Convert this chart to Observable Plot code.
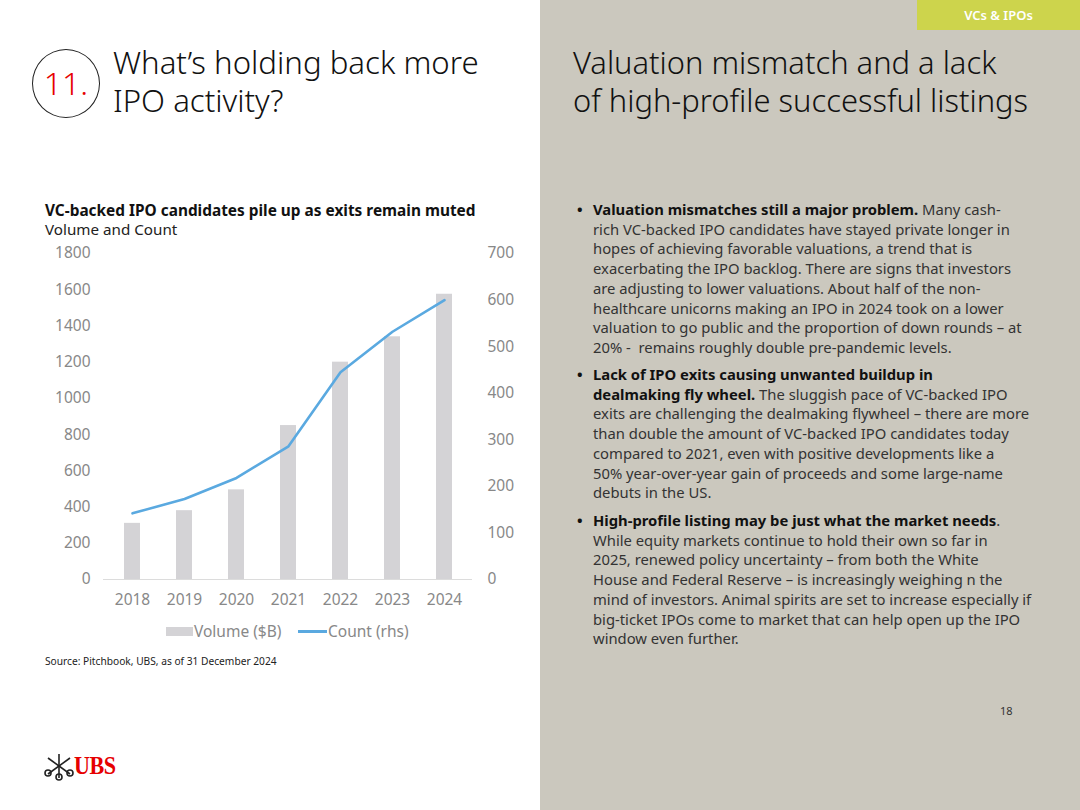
<!DOCTYPE html>
<html>
<head>
<meta charset="utf-8">
<script src="https://cdn.jsdelivr.net/npm/d3@7"></script>
<script src="https://cdn.jsdelivr.net/npm/@observablehq/plot@0.6"></script>
<style>
  html, body { margin:0; padding:0; }
  body { width:1080px; height:810px; position:relative; overflow:hidden; background:#fff; font-family:"Noto Sans", sans-serif; }
  .right { position:absolute; left:540px; top:0; width:540px; height:810px; background:#cbc8be; }
  .tag { position:absolute; left:917px; top:0; width:163px; height:30px; background:#cdd44c; color:#fff; font-size:13px; font-weight:600; line-height:30px; text-align:center; }
  .circle { position:absolute; left:32px; top:49px; width:66px; height:67px; border:1.5px solid #222; border-radius:50%; }
  .circle span { position:absolute; left:0; width:66px; top:14px; text-align:center; color:#e60000; font-size:32px; font-weight:300; line-height:38px; }
  .title { position:absolute; font-size:31.2px; font-weight:300; color:#111; line-height:38px; white-space:nowrap; }
  .ctitle { position:absolute; left:45px; top:200px; font-size:15.4px; font-weight:700; color:#111; white-space:nowrap; }
  .csub { position:absolute; left:45px; top:219px; font-size:15.2px; color:#222; white-space:nowrap; }
  #chart { position:absolute; left:40px; top:240px; }
  .legend { position:absolute; top:620px; left:0; font-size:15.5px; color:#888; white-space:nowrap; }
  .source { position:absolute; left:45px; top:654px; font-size:10.2px; color:#222; white-space:nowrap; }
  .bul { position:absolute; left:593px; font-size:14.8px; line-height:19.7px; color:#333; white-space:nowrap; }
  .bul b { color:#111; }
  .bul::before { content:"•"; position:absolute; left:-16px; top:0; color:#111; font-weight:700; }
  .page { position:absolute; left:1000px; top:703px; font-size:11px; color:#333; }
  .ubs { position:absolute; left:74px; top:751px; font-family:"Liberation Serif", serif; font-weight:700; font-size:26px; color:#e60000; letter-spacing:-0.5px; transform:scaleX(0.85); transform-origin:left; }
</style>
</head>
<body>
<div class="right"></div>
<div class="tag">VCs &amp; IPOs</div>
<div class="circle"><span>11.</span></div>
<div class="title" style="left:113px; top:43px;">What’s holding back more</div>
<div class="title" style="left:113px; top:81px;">IPO activity?</div>
<div class="title" style="left:573px; top:43px; font-size:30.9px;">Valuation mismatch and a lack</div>
<div class="title" style="left:573px; top:81px; font-size:30.9px;">of high-profile successful listings</div>

<div class="ctitle">VC-backed IPO candidates pile up as exits remain muted</div>
<div class="csub">Volume and Count</div>
<div id="chart"></div>

<div class="legend">
  <span style="position:absolute; left:166px; top:7px; width:27px; height:9px; background:#d4d3d6;"></span>
  <span style="position:absolute; left:194px; top:0;">Volume ($B)</span>
  <span style="position:absolute; left:298px; top:10px; width:29px; height:3px; background:#5aa9e0;"></span>
  <span style="position:absolute; left:328px; top:0;">Count (rhs)</span>
</div>
<div class="source">Source: Pitchbook, UBS, as of 31 December 2024</div>

<div class="bul" style="top:200px;"><b>Valuation mismatches still a major problem.</b> Many cash-<br>rich VC-backed IPO candidates have stayed private longer in<br>hopes of achieving favorable valuations, a trend that is<br>exacerbating the IPO backlog. There are signs that investors<br>are adjusting to lower valuations. About half of the non-<br>healthcare unicorns making an IPO in 2024 took on a lower<br>valuation to go public and the proportion of down rounds – at<br>20% -&nbsp; remains roughly double pre-pandemic levels.</div>
<div class="bul" style="top:365px;"><b>Lack of IPO exits causing unwanted buildup in<br>dealmaking fly wheel.</b> The sluggish pace of VC-backed IPO<br>exits are challenging the dealmaking flywheel – there are more<br>than double the amount of VC-backed IPO candidates today<br>compared to 2021, even with positive developments like a<br>50% year-over-year gain of proceeds and some large-name<br>debuts in the US.</div>
<div class="bul" style="top:511px;"><b>High-profile listing may be just what the market needs</b>.<br>While equity markets continue to hold their own so far in<br>2025, renewed policy uncertainty – from both the White<br>House and Federal Reserve – is increasingly weighing n the<br>mind of investors. Animal spirits are set to increase especially if<br>big-ticket IPOs come to market that can help open up the IPO<br>window even further.</div>

<div class="page">18</div>
<svg style="position:absolute; left:44px; top:752px;" width="30" height="30" viewBox="0 0 30 30">
  <g stroke="#222" stroke-width="1.6" fill="none">
    <line x1="15" y1="2" x2="15" y2="26"/>
    <line x1="4" y1="6" x2="26" y2="22"/>
    <line x1="26" y1="6" x2="4" y2="22"/>
    <circle cx="15" cy="25" r="3"/>
    <circle cx="4" cy="21" r="3"/>
    <circle cx="26" cy="21" r="3"/>
  </g>
</svg>
<div class="ubs">UBS</div>

<script>
const years = ["2018","2019","2020","2021","2022","2023","2024"];
const volume = [310, 380, 495, 850, 1200, 1340, 1575];
const count = [142, 173, 218, 286, 445, 532, 600];
const leftTicks = [0,200,400,600,800,1000,1200,1400,1600,1800];
const rightTicks = [0,100,200,300,400,500,600,700];

const leftMax = 1800, rightMax = 700;
const k = leftMax / rightMax;
const data = years.map((y, i) => ({year: y, volume: volume[i], countScaled: count[i] * k}));

const chart = Plot.plot({
  width: 480,
  height: 370,
  marginLeft: 63,
  marginRight: 48,
  marginTop: 13,
  marginBottom: 31,
  style: {fontFamily: "Noto Sans, sans-serif", fontSize: "15.5px", color: "#888", background: "transparent"},
  x: {domain: years, paddingInner: 0.695, paddingOuter: 0.36, label: null},
  y: {domain: [0, leftMax], label: null},
  marks: [
    Plot.barY(data, {x: "year", y: "volume", fill: "#d4d3d6"}),
    Plot.ruleY([0], {stroke: "#dcdcdc", strokeWidth: 1}),
    Plot.line(data, {x: "year", y: "countScaled", stroke: "#5aa9e0", strokeWidth: 2.6}),
    Plot.axisX({tickSize: 0, tickPadding: 14, fontSize: 15.5, fill: "#888"}),
    Plot.axisY(leftTicks, {anchor: "left", tickSize: 0, tickPadding: 13, fontSize: 15.5, fill: "#888", tickFormat: d => String(d)}),
    Plot.axisY(rightTicks.map(v => v * k), {anchor: "right", tickSize: 0, tickPadding: 15, fontSize: 15.5, fill: "#888", tickFormat: d => String(Math.round(d / k))})
  ]
});
document.getElementById("chart").appendChild(chart);
</script>
</body>
</html>
